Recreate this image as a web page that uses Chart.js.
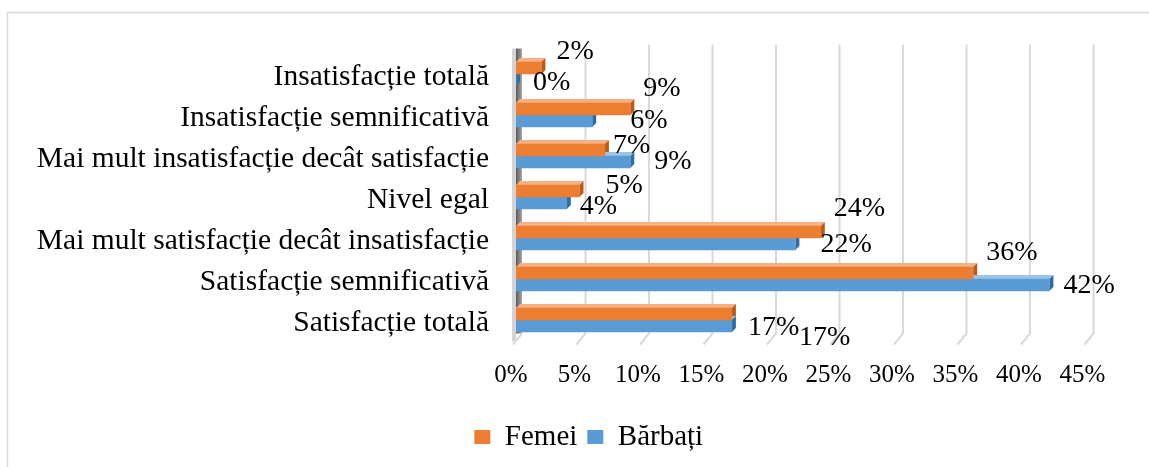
<!DOCTYPE html>
<html><head><meta charset="utf-8">
<script src="https://cdn.jsdelivr.net/npm/chart.js@4.4.1/dist/chart.umd.min.js"></script>
<style>html,body{margin:0;padding:0;background:#fff;overflow:hidden}
#wrap{position:absolute;left:0;top:0;width:1149px;height:467px}</style>
</head><body><div id="wrap"><canvas id="c"></canvas></div>
<script>
const categories = ['Insatisfacție totală', 'Insatisfacție semnificativă', 'Mai mult insatisfacție decât satisfacție', 'Nivel egal', 'Mai mult satisfacție decât insatisfacție', 'Satisfacție semnificativă', 'Satisfacție totală'];
const femei = [2, 9, 7, 5, 24, 36, 17];
const barbati = [0, 6, 9, 4, 22, 42, 17];
const seriesNames = ['Femei', 'Bărbați'];
const xMin = 0, xMax = 45, xStep = 5;

// label placement nudges (pixels, relative to the bar end), as in the reference
const femeiLabelDx = [15, 13, 8, 26, 13, 13, 16];
const femeiLabelDy = [-16, -20, -4, -5, -23, -20, 14];
const barbatiLabelDx = [17, 38, 24, 13, 25, 14, 67];
const barbatiLabelDy = [3, 0, 0, 4, 1, 1, 12];

const FONT = '"Liberation Serif", "Times New Roman", serif';
const colors = [
  {front: '#ED7D31', top: '#F6B183', side: '#B85A1B'},
  {front: '#5B9BD5', top: '#9DC3E6', side: '#2E6DA4'}
];
const nudges = [[femeiLabelDx, femeiLabelDy], [barbatiLabelDx, barbatiLabelDy]];

const framePlugin = {
  id: 'frame',
  afterLayout(chart) {
    if (chart.legend) chart.legend.left = 90;
  },
  beforeDraw(chart) {
    const ctx = chart.ctx;
    ctx.save();
    ctx.fillStyle = '#fff';
    ctx.fillRect(0, 0, chart.width, chart.height);
    ctx.strokeStyle = '#d9d9d9';
    ctx.lineWidth = 1.5;
    ctx.strokeRect(7.5, 12.5, chart.width + 20, chart.height + 20);
    ctx.restore();
  }
};

const gridPlugin = {
  id: 'grid3d',
  beforeDatasetsDraw(chart) {
    const ctx = chart.ctx, xs = chart.scales.x, a = chart.chartArea;
    ctx.save();
    ctx.strokeStyle = '#d9d9d9';
    ctx.lineWidth = 2;
    for (let v = xMin + xStep; v <= xMax; v += xStep) {
      const px = xs.getPixelForValue(v);
      ctx.beginPath();
      ctx.moveTo(px + 6, a.top - 9);
      ctx.lineTo(px + 6, a.bottom - 7);
      ctx.lineTo(px - 3, a.bottom + 4);
      ctx.stroke();
    }
    const x0 = xs.getPixelForValue(0);
    ctx.fillStyle = '#d4d4d4';
    ctx.fillRect(x0 - 4, a.top - 5, 4, a.bottom - a.top + 6);
    const g = ctx.createLinearGradient(x0, 0, x0 + 6, 0);
    g.addColorStop(0, '#5a5a5a');
    g.addColorStop(1, '#a6a6a6');
    ctx.fillStyle = g;
    ctx.fillRect(x0, a.top - 5, 6, a.bottom - a.top - 2);
    ctx.beginPath();
    ctx.moveTo(x0 + 6, a.bottom - 7);
    ctx.lineTo(x0 - 3, a.bottom + 4);
    ctx.stroke();
    const d = 4;
    chart.data.datasets.forEach((ds, di) => {
      const meta = chart.getDatasetMeta(di);
      meta.data.forEach(el => {
        const p = el.getProps(['x', 'y', 'base', 'height'], true);
        const top = p.y - p.height / 2, bot = p.y + p.height / 2;
        ctx.fillStyle = colors[di].top;
        ctx.beginPath();
        ctx.moveTo(p.base, top); ctx.lineTo(p.base + d, top - d);
        ctx.lineTo(p.x + d, top - d); ctx.lineTo(p.x, top); ctx.closePath(); ctx.fill();
        ctx.fillStyle = colors[di].side;
        ctx.beginPath();
        ctx.moveTo(p.x, top); ctx.lineTo(p.x + d, top - d);
        ctx.lineTo(p.x + d, bot - d); ctx.lineTo(p.x, bot); ctx.closePath(); ctx.fill();
      });
    });
    ctx.restore();
  }
};

const labelPlugin = {
  id: 'vlabels',
  afterDatasetsDraw(chart) {
    const ctx = chart.ctx;
    ctx.save();
    ctx.font = '28px ' + FONT;
    ctx.fillStyle = '#000';
    ctx.textAlign = 'left';
    ctx.textBaseline = 'middle';
    chart.data.datasets.forEach((ds, di) => {
      const meta = chart.getDatasetMeta(di);
      meta.data.forEach((el, i) => {
        const p = el.getProps(['x', 'y'], true);
        ctx.fillText(ds.data[i] + '%', p.x + nudges[di][0][i], p.y + nudges[di][1][i]);
      });
    });
    ctx.restore();
  }
};

new Chart(document.getElementById('c'), {
  type: 'bar',
  data: {
    labels: categories,
    datasets: [
      {label: seriesNames[0], data: femei, backgroundColor: colors[0].front, borderWidth: 0, barThickness: 12},
      {label: seriesNames[1], data: barbati, backgroundColor: colors[1].front, borderWidth: 0, barThickness: 12}
    ]
  },
  options: {
    indexAxis: 'y',
    responsive: true,
    maintainAspectRatio: false,
    animation: false,
    layout: {padding: {left: 0, top: 53.5, right: 61.5, bottom: 5.5}},
    scales: {
      x: {
        min: xMin, max: xMax,
        grid: {display: false, drawTicks: false},
        border: {display: false},
        ticks: {stepSize: xStep, color: '#000', font: {family: FONT, size: 25}, padding: 20, labelOffset: -5,
          callback: v => v + '%'},
        afterFit(s) { s.height = 72; }
      },
      y: {
        grid: {display: false, drawTicks: false},
        border: {display: false},
        ticks: {color: '#000', font: {family: FONT, size: 29.5}, padding: 27, labelOffset: 3},
        afterFit(s) { s.width = 516; }
      }
    },
    plugins: {
      legend: {
        position: 'bottom',
        labels: {color: '#000', font: {family: FONT, size: 29}, boxWidth: 16, boxHeight: 14, padding: 10}
      },
      tooltip: {enabled: false}
    }
  },
  plugins: [framePlugin, gridPlugin, labelPlugin]
});
</script>
</body></html>
